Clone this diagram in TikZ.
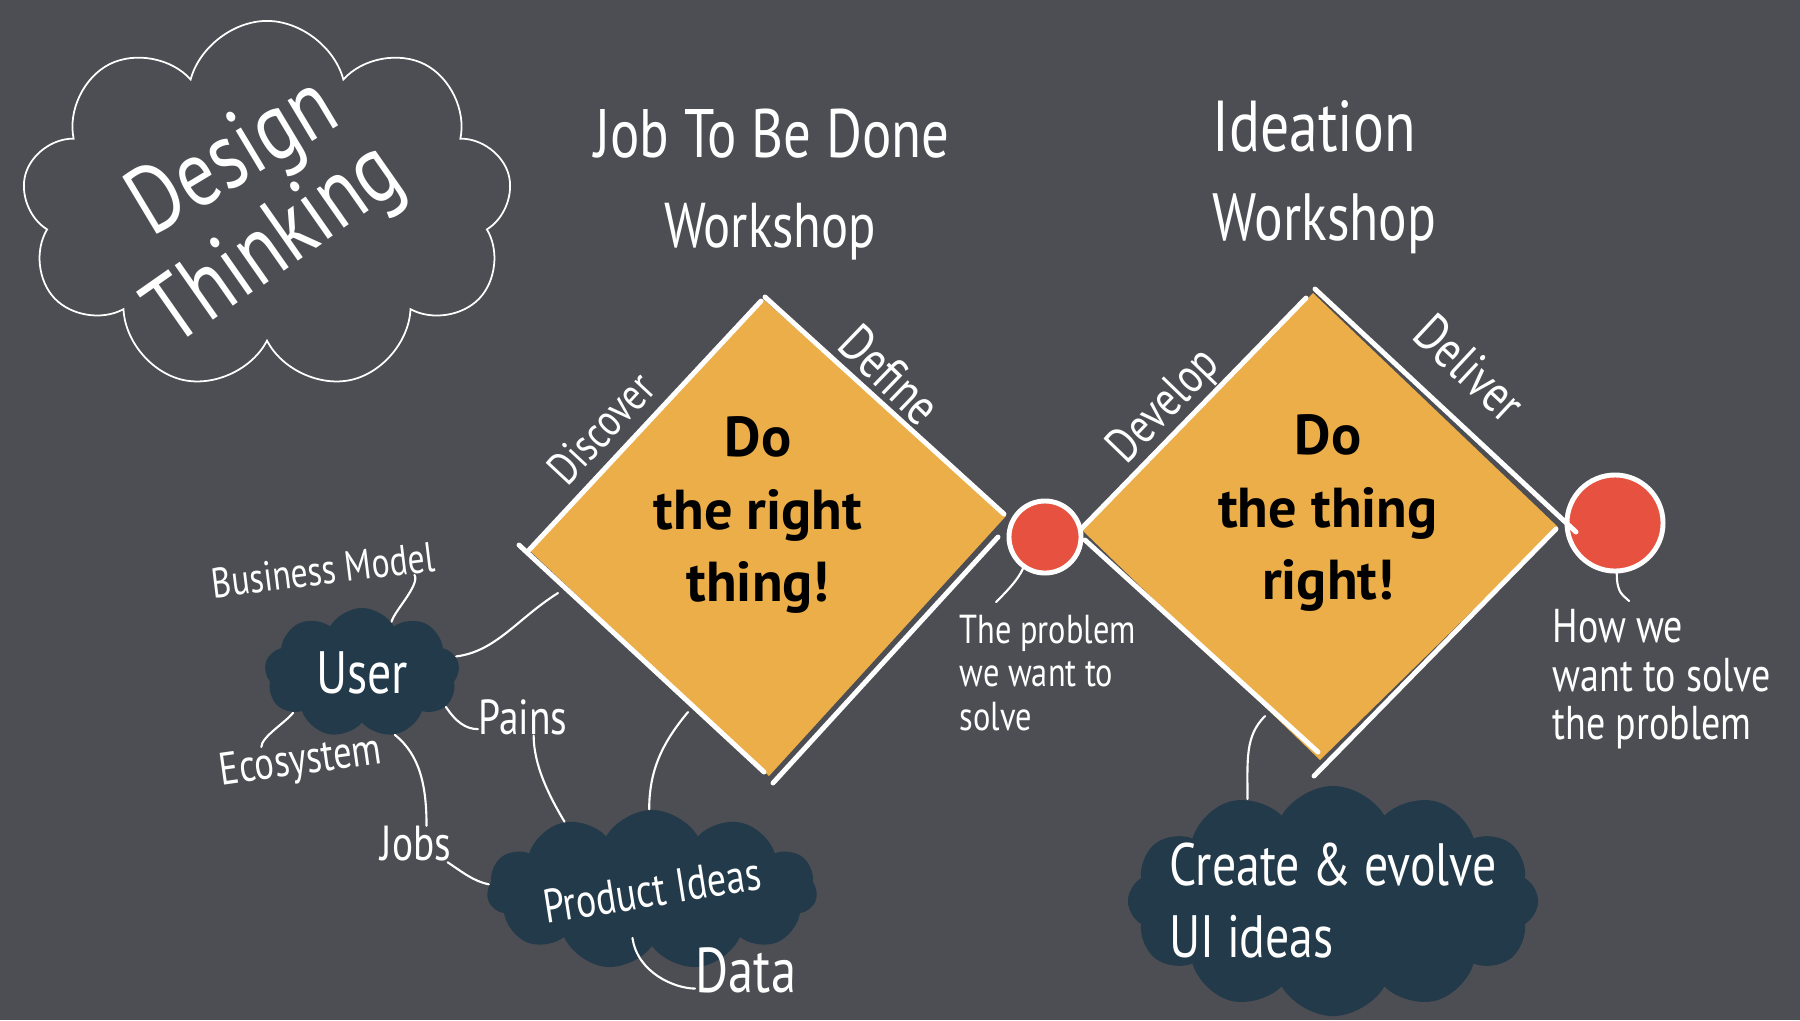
\documentclass[tikz,border=0pt]{standalone}
\usepackage{graphicx}
\usepackage{fontspec}
\setmainfont{PT Sans}
\newfontfamily\hand{PT Sans}[FakeStretch=0.8]
\newfontfamily\markerfont{PT Sans}
\newcommand{\penfont}[2]{\hand\fontsize{#1}{#2}\selectfont}
\newcommand{\boldpen}[2]{\markerfont\bfseries\fontsize{#1}{#2}\selectfont}
\usetikzlibrary{shapes.symbols,positioning}
\definecolor{slate}{HTML}{4D4E53}
\definecolor{mustard}{HTML}{ECAE48}
\definecolor{dotred}{HTML}{E6523F}
\definecolor{ink}{HTML}{223A4A}

\begin{document}
\begin{tikzpicture}[x=0.01cm, y=-0.01cm,
    note/.style={text=white, inner sep=0pt},
    rim/.style={white, line width=1.4pt, line cap=round},
    thread/.style={white, line width=0.6pt, line cap=round},
    blob/.style={cloud, cloud ignores aspect, cloud puff arc=120, fill=ink, text=white, inner sep=0pt},
    dot/.style={circle, fill=dotred, draw=white, line width=1.4pt, inner sep=0pt}]
  \useasboundingbox (0,0) rectangle (1800,1020);
  \fill[slate] (0,0) rectangle (1800,1020); % board

  % title cloud
  \node[cloud, cloud puffs=9, cloud puff arc=150, cloud ignores aspect, draw=white, line width=0.5pt,
        minimum width=4.9cm, minimum height=3.7cm] (dtcloud) at (267,206) {};
  \node[note, font=\penfont{27}{30}, rotate=31] (design) at (235,160) {Design};
  \node[note, font=\penfont{27}{30}, rotate=35] (thinking) at (277,247) {Thinking};

  % workshop titles
  \node[note, font=\penfont{19.5}{22}, anchor=base] (jtbd) at (772,157) {Job To Be Done};
  \node[note, font=\penfont{18}{22}, anchor=base] (jtbdws) at (770,247) {Workshop};
  \node[note, font=\penfont{20.5}{22}, anchor=base west] (ideation) at (1212,151) {Ideation};
  \node[note, font=\penfont{19}{22}, anchor=base west] (ideaws) at (1212,240) {Workshop};

  % left diamond
  \coordinate (d1n) at (763,299);
  \coordinate (d1e) at (1006,516);
  \coordinate (d1s) at (769,776);
  \coordinate (d1w) at (529,550);
  \fill[mustard] (d1n) -- (d1e) -- (d1s) -- (d1w) -- cycle;
  % right diamond
  \coordinate (d2n) at (1313,293);
  \coordinate (d2e) at (1558,527);
  \coordinate (d2s) at (1320,760);
  \coordinate (d2w) at (1082,530);
  \fill[mustard] (d2n) -- (d2e) -- (d2s) -- (d2w) -- cycle;

  % milestones
  \node[dot, minimum size=0.72cm] (problem) at (1045,537) {};
  \node[dot, minimum size=0.96cm] (solution) at (1615,523) {};

  % hand drawn edges
  \draw[rim] (529,550) -- (761,301); % discover
  \draw[rim] (765,297) -- (1004,514); % define
  \draw[rim] (519,545) -- (764,772);
  \draw[rim] (998,537) -- (773,783);
  \draw[rim] (1082,528) -- (1306,298); % develop
  \draw[rim] (1315,289) -- (1576,532); % deliver
  \draw[rim] (1085,540) -- (1318,752);
  \draw[rim] (1556,529) -- (1314,776);

  % phases
  \node[note, font=\penfont{13}{15}, rotate=47] (discover) at (601,428) {Discover};
  \node[note, font=\penfont{15}{17}, rotate=-44] (define) at (890,375) {Define};
  \node[note, font=\penfont{14}{16}, rotate=46] (develop) at (1165,407) {Develop};
  \node[note, font=\penfont{15}{17}, rotate=-43] (deliver) at (1470,368) {Deliver};

  \node[font=\boldpen{16}{20.5}, align=center, inner sep=0pt] (rightthing) at (758,515) {Do\\the right\\thing!};
  \node[font=\boldpen{16}{20.5}, align=center, inner sep=0pt] (thingright) at (1328,513) {Do\\the thing\\right!};

  \node[note, font=\penfont{11.5}{12.5}, align=left, anchor=north west] (problemtxt) at (959,614) {The problem\\we want to\\solve};
  \node[note, font=\penfont{13.5}{13.7}, align=left, anchor=north west] (howtxt) at (1552,609) {How we\\want to solve\\the problem};

  % research blobs
  \node[blob, cloud puffs=9, minimum width=1.95cm, minimum height=1.3cm, font=\penfont{17}{20}] (user) at (362,673) {User};
  \node[blob, cloud puffs=11, minimum width=3.3cm, minimum height=1.6cm, font=\penfont{13.5}{15}] (ideas) at (652,890) {\rotatebox{9}{Product Ideas}};
  \node[blob, cloud puffs=12, minimum width=4.1cm, minimum height=2.3cm, inner sep=-0.3cm, font=\penfont{17}{20.5}, align=left] (uiideas) at (1333,901) {Create \& evolve\\UI ideas};

  \node[note, font=\penfont{12}{14}, rotate=7] (bizmodel) at (323,570) {Business Model};
  \node[note, font=\penfont{13}{14}, rotate=8] (ecosystem) at (301,763) {Ecosystem};
  \node[note, font=\penfont{14}{16}] (pains) at (523,717) {Pains};
  \node[note, font=\penfont{14}{16}] (jobs) at (416,844) {Jobs};
  \node[note, font=\penfont{18}{20}] (data) at (746,970) {Data};

  % links
  \coordinate (d1a) at (558,593);
  \coordinate (d1b) at (688,712);
  \coordinate (d2a) at (1265,716);
  \draw[thread] (bizmodel.-10) .. controls +(6,10) and +(2,-10) .. (user.60);
  \draw[thread] (user.10) .. controls +(40,-5) and +(-40,25) .. (d1a);
  \draw[thread] (user.210) .. controls +(-8,10) and +(0,-10) .. (ecosystem.150);
  \draw[thread] (user.-22) .. controls +(10,15) and +(-12,0) .. (pains.195);
  \draw[thread] (user.-62) .. controls +(25,20) and +(0,-40) .. (jobs.60);
  \draw[thread] (pains.-60) .. controls +(0,30) and +(-15,-25) .. (ideas.142);
  \draw[thread] (jobs.-30) .. controls +(15,10) and +(-15,-3) .. (ideas.178);
  \draw[thread] (d1b) .. controls +(-25,30) and +(0,-40) .. (ideas.92);
  \draw[thread] ([yshift=0.25cm]ideas.-105) .. controls +(5,35) and +(-20,0) .. (data.200);
  \draw[thread] (d2a) .. controls +(-20,20) and +(0,-40) .. (uiideas.130);
  \draw[thread] (problem.-125) .. controls +(-5,12) and +(8,-8) .. ([shift={(0.37cm,0.12cm)}]problemtxt.north west);
  \draw[thread] (solution.-88) .. controls +(0,20) and +(-6,-6) .. ([shift={(0.77cm,0.08cm)}]howtxt.north west);
\end{tikzpicture}
\end{document}
